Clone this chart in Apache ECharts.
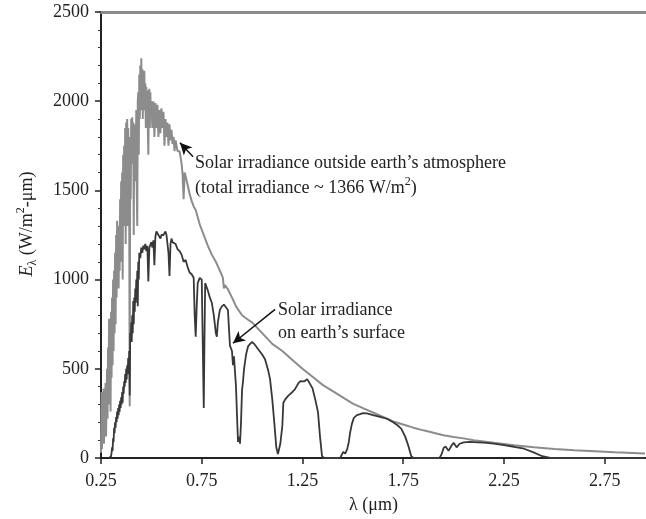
<!DOCTYPE html>
<html>
<head>
<meta charset="utf-8">
<script src="https://cdn.jsdelivr.net/npm/echarts@6/dist/echarts.min.js"></script>
<style>html,body{margin:0;padding:0;background:#fff}#c{width:646px;height:519px}</style>
</head>
<body>
<div id="c"></div>
<script>
// Extraterrestrial spectrum (µm, W/m²-µm)
const extraWl = [0.250,0.2525,0.255,0.2575,0.260,0.2625,0.265,0.2675,0.270,0.2725,0.275,0.2775,0.280,0.2825,0.285,0.2875,0.290,0.2925,0.295,0.2975,0.300,0.3025,0.305,0.3075,0.310,0.3125,0.315,0.3175,0.320,0.3225,0.325,0.3275,0.330,0.3325,0.335,0.3375,0.340,0.3425,0.345,0.3475,0.350,0.3525,0.355,0.3575,0.360,0.3625,0.365,0.3675,0.370,0.3725,0.375,0.3775,0.380,0.3825,0.385,0.3875,0.390,0.3925,0.395,0.3975,0.400,0.4025,0.405,0.4075,0.410,0.4125,0.415,0.4175,0.420,0.4225,0.425,0.4275,0.430,0.4325,0.435,0.4375,0.440,0.4425,0.445,0.4475,0.450,0.4525,0.455,0.4575,0.460,0.4625,0.465,0.4675,0.470,0.4725,0.475,0.4775,0.480,0.4825,0.485,0.4875,0.490,0.4925,0.495,0.4975,0.500,0.505,0.510,0.515,0.520,0.525,0.530,0.535,0.540,0.545,0.550,0.555,0.560,0.565,0.570,0.575,0.580,0.585,0.590,0.595,0.600,0.605,0.610,0.615,0.620,0.630,0.640,0.650,0.655,0.660,0.665,0.670,0.680,0.690,0.700,0.710,0.720,0.740,0.760,0.780,0.800,0.820,0.840,0.855,0.860,0.865,0.880,0.900,0.920,0.950,0.980,1.000,1.050,1.100,1.150,1.200,1.250,1.300,1.350,1.400,1.450,1.500,1.550,1.600,1.650,1.700,1.750,1.800,1.850,1.900,1.950,2.000,2.050,2.100,2.150,2.200,2.300,2.400,2.500,2.600,2.700,2.800,2.950];
const extraE = [30,370,50,320,150,390,80,360,200,420,120,300,500,220,620,300,780,350,700,260,820,450,900,520,1000,600,1050,700,1150,750,1250,900,1330,1250,1300,950,1250,1050,1450,1100,1550,1200,1600,1000,1700,1300,1750,1400,1850,1200,1880,1500,1900,1300,1850,1600,1500,290,1800,1450,1900,1700,1910,1650,1880,1250,1870,1700,1850,1550,1950,1500,1300,2000,2050,1700,2150,1900,2200,2000,2240,1950,2180,1900,2150,2000,2170,1950,2100,1850,2080,1950,2060,1850,1700,2000,2070,1850,2050,1900,2000,1850,2000,1800,1990,1850,1980,1800,1950,1820,1960,1850,1940,1750,1900,1800,1880,1750,1870,1780,1840,1760,1800,1720,1780,1720,1720,1650,1590,1450,1600,1580,1530,1480,1440,1410,1390,1310,1250,1190,1140,1100,1050,1010,950,970,945,900,850,800,775,760,700,640,600,550,500,455,410,375,340,305,280,255,230,205,188,170,155,142,128,118,110,100,93,85,72,60,50,43,38,32,25];

// Surface spectrum
const surfWl = [0.290,0.297,0.300,0.3025,0.305,0.3075,0.310,0.3125,0.315,0.3175,0.320,0.3225,0.325,0.3275,0.330,0.3325,0.335,0.3375,0.340,0.3425,0.345,0.3475,0.350,0.3525,0.355,0.3575,0.360,0.3625,0.365,0.3675,0.370,0.3725,0.375,0.3775,0.380,0.3825,0.385,0.3875,0.390,0.3925,0.395,0.3975,0.400,0.4025,0.405,0.4075,0.410,0.4125,0.415,0.4175,0.420,0.4225,0.425,0.4275,0.430,0.4325,0.435,0.4375,0.440,0.445,0.450,0.455,0.460,0.465,0.470,0.475,0.480,0.485,0.490,0.495,0.500,0.505,0.510,0.515,0.520,0.525,0.530,0.535,0.540,0.545,0.550,0.555,0.560,0.565,0.570,0.575,0.580,0.585,0.590,0.595,0.600,0.605,0.610,0.620,0.630,0.640,0.650,0.660,0.670,0.680,0.690,0.700,0.710,0.715,0.720,0.725,0.730,0.740,0.750,0.758,0.760,0.763,0.767,0.780,0.790,0.800,0.810,0.820,0.825,0.830,0.840,0.850,0.860,0.870,0.880,0.890,0.895,0.900,0.905,0.910,0.915,0.920,0.925,0.930,0.935,0.940,0.945,0.950,0.955,0.960,0.970,0.980,0.990,1.000,1.010,1.030,1.050,1.064,1.080,1.089,1.100,1.110,1.120,1.128,1.135,1.140,1.150,1.155,1.165,1.180,1.200,1.213,1.230,1.240,1.260,1.273,1.285,1.300,1.315,1.327,1.337,1.347,1.357,1.437,1.452,1.462,1.472,1.480,1.486,1.495,1.505,1.520,1.536,1.550,1.570,1.600,1.635,1.670,1.700,1.720,1.740,1.760,1.775,1.790,1.800,1.930,1.940,1.950,1.960,1.975,1.990,2.000,2.015,2.030,2.050,2.080,2.120,2.150,2.200,2.250,2.300,2.350,2.400,2.440,2.480,2.950];
const surfE = [0,0,10,30,60,40,110,90,170,140,200,170,230,200,260,220,280,240,300,260,320,280,340,300,370,310,400,360,430,400,470,420,500,440,520,470,560,480,600,350,700,650,760,650,800,700,880,750,900,820,950,870,1000,900,1050,850,1100,1000,1150,1120,1180,1150,1190,1170,1200,1160,1190,990,1180,1170,1210,1180,1220,1080,1240,1270,1280,1250,1260,1230,1250,1240,1250,1260,1270,1250,1260,1150,1020,1200,1230,1210,1220,1200,1170,1160,1140,1100,1110,1070,1040,1030,1010,800,680,850,980,1010,1000,990,280,600,980,940,900,870,800,700,680,760,830,850,860,845,830,630,620,600,520,570,560,400,240,90,120,80,200,380,430,500,580,626,640,650,640,610,580,554,490,442,330,200,60,22,30,80,180,310,330,350,370,386,420,431,430,442,420,390,320,257,120,11,0,0,34,25,50,90,140,190,225,240,246,252,250,240,230,220,200,185,165,120,70,10,0,0,20,55,65,40,70,85,60,80,88,90,88,86,80,72,63,52,30,10,0,0];

const xTicks = [0.25, 0.75, 1.25, 1.75, 2.25, 2.75];
const yTicks = [0, 500, 1000, 1500, 2000, 2500];
// annotation arrows [fromλ, fromE, toλ, toE]
const arrows = [[0.707, 1689, 0.642, 1767], [1.114, 833, 0.905, 643]];

const extraData = extraWl.map((w, i) => [w, extraE[i]]);
const surfData = surfWl.map((w, i) => [w, surfE[i]]);

const serif = 'Liberation Serif, Times New Roman, serif';
const chart = echarts.init(document.getElementById('c'), null, {renderer: 'canvas'});
chart.setOption({
  animation: false,
  backgroundColor: '#fff',
  grid: {left: 101, top: 12, right: 0, bottom: 60, containLabel: false},
  xAxis: [{
    type: 'value', min: 0.25, max: 2.955, position: 'bottom',
    name: 'λ (μm)', nameLocation: 'middle', nameGap: 38,
    nameTextStyle: {fontFamily: serif, fontSize: 18, color: '#222'},
    axisLine: {show: true, onZero: false, lineStyle: {color: '#222', width: 2}},
    axisTick: {show: true, length: 6, lineStyle: {color: '#222', width: 1.5}, customValues: xTicks},
    axisLabel: {fontFamily: serif, fontSize: 18, color: '#222', margin: 14, customValues: xTicks,
      formatter: v => v.toFixed(2)},
    splitLine: {show: false}
  }, {
    type: 'value', min: 0.25, max: 2.955, position: 'top',
    axisLine: {show: true, onZero: false, lineStyle: {color: '#8a8a8a', width: 3}},
    axisTick: {show: false}, axisLabel: {show: false}, splitLine: {show: false}
  }],
  yAxis: {
    type: 'value', min: 0, max: 2500, interval: 500,
    axisLine: {show: true, onZero: false, lineStyle: {color: '#222', width: 2}},
    axisTick: {show: true, length: 6, lineStyle: {color: '#222', width: 1.5}},
    minorTick: {show: true, splitNumber: 5, length: 3, lineStyle: {color: '#333', width: 1}},
    axisLabel: {fontFamily: serif, fontSize: 18, color: '#222', margin: 12,
      customValues: yTicks, formatter: v => String(v)},
    splitLine: {show: false}
  },
  series: [{
    type: 'line', data: extraData, showSymbol: false, symbol: 'none',
    lineStyle: {color: '#8c8c8c', width: 2}, z: 2,
    markLine: {
      silent: true, symbol: ['none', 'arrow'], symbolSize: [9, 12],
      label: {show: false},
      lineStyle: {color: '#111', width: 1.5, type: 'solid'},
      data: arrows.map(a => [{coord: [a[0], a[1]]}, {coord: [a[2], a[3]]}])
    }
  }, {
    type: 'line', data: surfData, showSymbol: false, symbol: 'none',
    lineStyle: {color: '#383838', width: 1.8}, z: 3
  }],
  graphic: [
    {type: 'text', x: 27, y: 224, rotation: Math.PI / 2,
      style: {text: '{i|E}{sub|λ}{n| (W/m}{sup|2}{n|-μm)}', align: 'center', verticalAlign: 'middle',
        fill: '#222', font: '18px ' + serif,
        rich: {
          i: {fontFamily: serif, fontSize: 18, fontStyle: 'italic', lineHeight: 24, verticalAlign: 'middle'},
          n: {fontFamily: serif, fontSize: 18, lineHeight: 24, verticalAlign: 'middle'},
          sub: {fontFamily: serif, fontSize: 12, lineHeight: 24, verticalAlign: 'bottom'},
          sup: {fontFamily: serif, fontSize: 12, lineHeight: 24, verticalAlign: 'top'}
        }}},
    {type: 'text', x: 195, y: 163,
      style: {text: 'Solar irradiance outside earth’s atmosphere', fill: '#222', font: '18px ' + serif,
        align: 'left', verticalAlign: 'middle'}},
    {type: 'text', x: 195, y: 188,
      style: {text: '{n|(total irradiance ~ 1366 W/m}{sup|2}{n|)}', fill: '#222', font: '18px ' + serif,
        align: 'left', verticalAlign: 'middle',
        rich: {
          n: {fontFamily: serif, fontSize: 18, lineHeight: 24, verticalAlign: 'middle'},
          sup: {fontFamily: serif, fontSize: 12, lineHeight: 24, verticalAlign: 'top'}
        }}},
    {type: 'text', x: 278, y: 310,
      style: {text: 'Solar irradiance', fill: '#222', font: '18px ' + serif, align: 'left', verticalAlign: 'middle'}},
    {type: 'text', x: 278, y: 333,
      style: {text: 'on earth’s surface', fill: '#222', font: '18px ' + serif, align: 'left', verticalAlign: 'middle'}}
  ]
});
</script>
</body>
</html>
